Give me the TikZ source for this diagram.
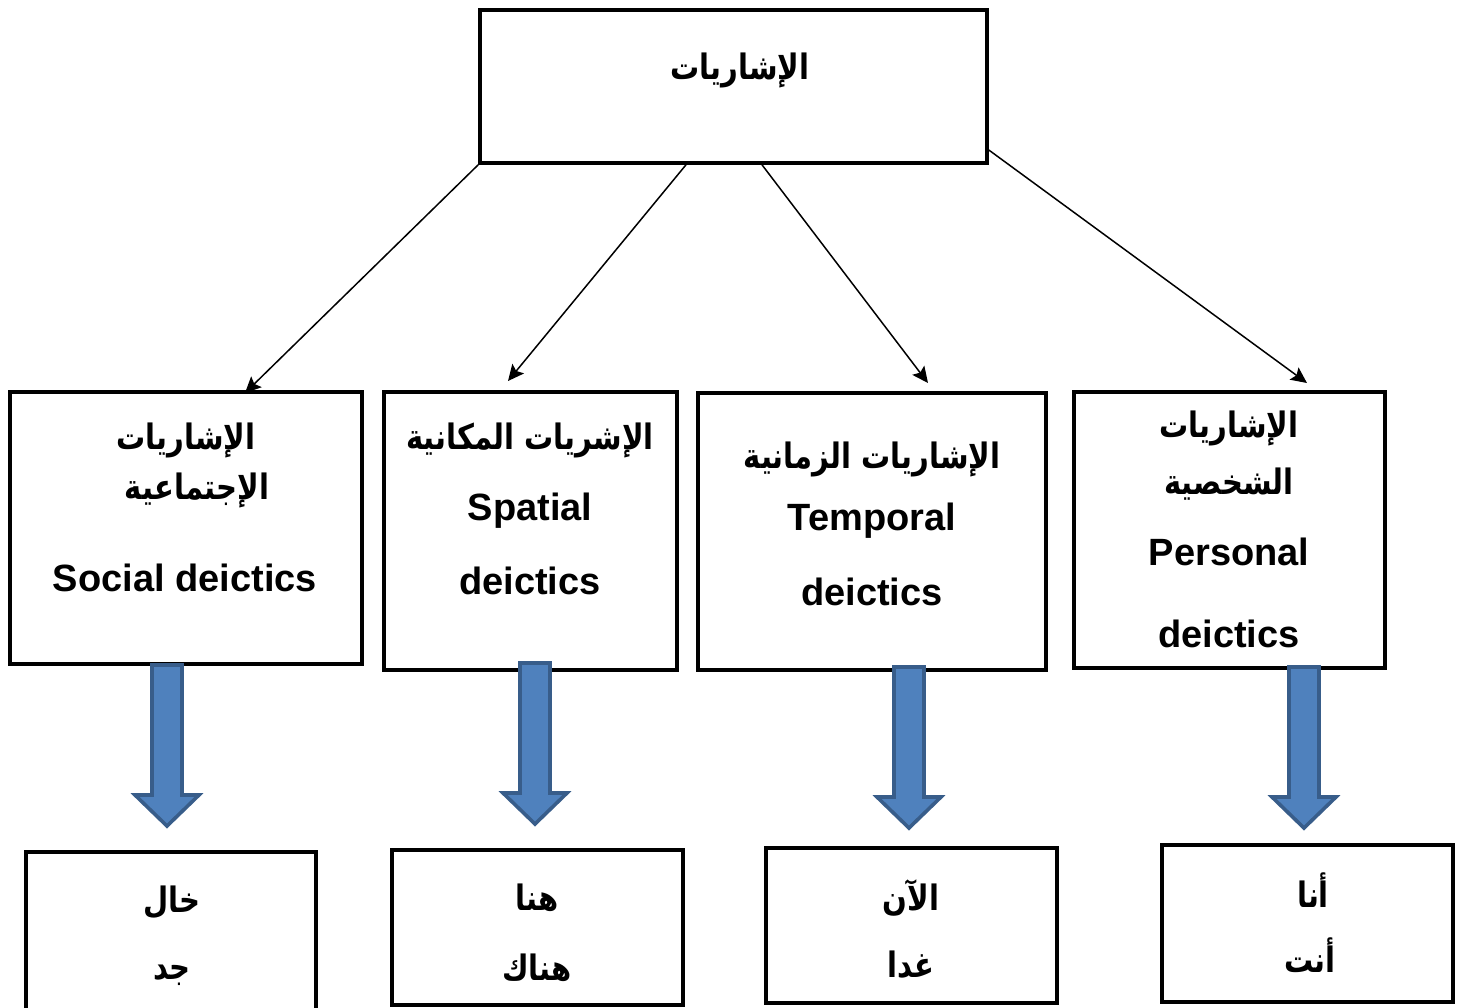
\documentclass[tikz,border=0pt]{standalone}
\usepackage{fontspec}
\usepackage{graphicx}
\setmainfont{Liberation Sans}
\newfontfamily\arabicfont[Script=Arabic]{DejaVu Sans}
\TeXXeTstate=1
\usetikzlibrary{arrows.meta}
\definecolor{arrowfill}{HTML}{4F81BD}
\definecolor{arrowedge}{HTML}{385D8A}
\newcommand{\ar}[1]{\scalebox{0.83}[1]{\arabicfont\bfseries\beginR #1\endR}}
\tikzset{
  box/.style={draw=black, line width=1.8pt, rectangle, inner sep=0pt},
  en/.style={font=\fontsize{19}{22}\selectfont\bfseries, inner sep=0pt},
  arb/.style={font=\fontsize{17.5}{20}\selectfont, inner sep=0pt},
  link/.style={line width=0.75pt, -{Stealth[length=8pt,width=7.5pt,inset=1.5pt]}},
  blockarrow/.pic={
    \draw[fill=arrowfill, draw=arrowedge, line width=1.8pt, line join=miter]
      (-15,0) -- (15,0) -- (15,130) -- (32,130) -- (0,161) -- (-32,130) -- (-15,130) -- cycle;
  }
}
\begin{document}
\begin{tikzpicture}[x=0.5pt,y=-0.5pt]
\useasboundingbox (0,0) rectangle (1464,1008);
% boxes
\node[box, minimum width=253.5pt, minimum height=76.5pt] (top) at (733.5,86.5) {};
\node[box, minimum width=176pt, minimum height=136pt] (soc) at (186,528) {};
\node[box, minimum width=146.5pt, minimum height=139pt] (spa) at (530.5,531) {};
\node[box, minimum width=174pt, minimum height=138.5pt] (tem) at (872,531.5) {};
\node[box, minimum width=155.5pt, minimum height=138pt] (per) at (1229.5,530) {};
\node[box, minimum width=145pt, minimum height=80pt] (b1) at (171,932) {};
\node[box, minimum width=145.5pt, minimum height=77.5pt] (b2) at (537.5,927.5) {};
\node[box, minimum width=145.5pt, minimum height=77.5pt] (b3) at (911.5,925.5) {};
\node[box, minimum width=145.5pt, minimum height=78.5pt] (b4) at (1307.5,923.5) {};
% texts
\node[arb] (ttop) at (740,70) {\ar{الإشاريات}};
\node[arb] (tsoc1) at (186,440) {\ar{الإشاريات}};
\node[arb] (tsoc2) at (197,490) {\ar{الإجتماعية}};
\node[en] (tsoc3) at (185,578) {Social deictics};
\node[arb] (tspa1) at (530,440) {\ar{الإشريات المكانية}};
\node[en] (tspa2) at (530,511) {Spatial};
\node[en] (tspa3) at (530,581) {deictics};
\node[arb] (ttem1) at (872,459) {\ar{الإشاريات الزمانية}};
\node[en] (ttem2) at (872,521) {Temporal};
\node[en] (ttem3) at (872,592) {deictics};
\node[arb] (tper1) at (1229,428) {\ar{الإشاريات}};
\node[arb] (tper2) at (1229,484) {\ar{الشخصية}};
\node[en] (tper3) at (1229,552) {Personal};
\node[en] (tper4) at (1229,634) {deictics};
\node[arb] (tb11) at (172,902) {\ar{خال}};
\node[arb] (tb12) at (172,975) {\ar{جد}};
\node[arb] (tb21) at (537,898) {\ar{هنا}};
\node[arb] (tb22) at (537,968) {\ar{هناك}};
\node[arb] (tb31) at (911,898) {\ar{الآن}};
\node[arb] (tb32) at (911,965) {\ar{غدا}};
\node[arb] (tb41) at (1313,890) {\ar{أنا}};
\node[arb] (tb42) at (1310,955) {\ar{أنت}};
% connector ends
\coordinate (e1) at (245,393);
\coordinate (e2) at (508,381);
\coordinate (e3) at (928,383);
\coordinate (e4) at (1307,383);
\draw[link] (top.south west) -- (e1);
\draw[link] ([xshift=-23.75pt]top.south) -- (e2);
\draw[link] ([xshift=14.25pt]top.south) -- (e3);
\draw[link] ([yshift=-31.75pt]top.east) -- (e4);
% block arrows
\pic at (167,665) {blockarrow};
\pic at (535,663) {blockarrow};
\pic at (909,667) {blockarrow};
\pic at (1304,667) {blockarrow};
\end{tikzpicture}
\end{document}
